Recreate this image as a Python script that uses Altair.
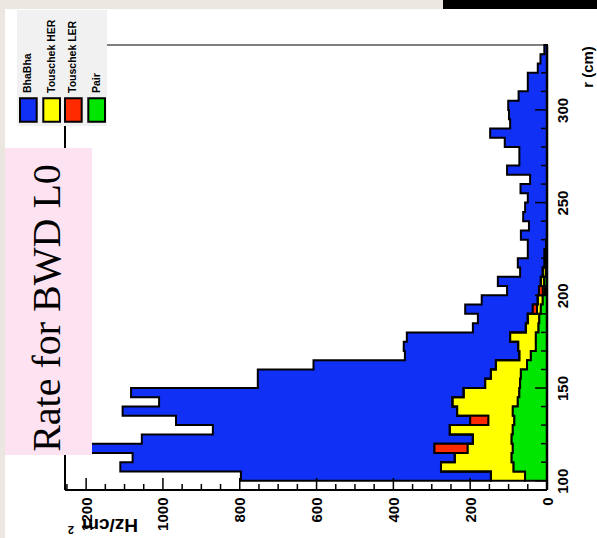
import altair as alt
import pandas as pd

# r bins: 5 cm wide, from 100 cm to 335 cm
r_start = 100
bin_width = 5

series = ["BhaBha", "Touschek HER", "Touschek LER", "Pair"]
colors = ["#1030f5", "#ffff00", "#ff2a00", "#00e600"]
stack_order = {"Pair": 0, "Touschek HER": 1, "Touschek LER": 2, "BhaBha": 3}

pair = [57, 87, 92, 89, 92, 89, 85, 89, 76, 72, 70, 68, 52, 42, 29, 29, 22, 20, 16, 11,
        5, 7, 3, 4, 4, 2, 0, 0, 0, 0, 0, 0, 0, 0, 0, 0, 0, 0, 0, 0,
        0, 0, 0, 0, 0, 0, 0]
touschek_her = [89, 189, 148, 118, 101, 164, 68, 145, 170, 145, 91, 78, 81, 30, 46, 67, 33, 30, 10, 13,
                6, 9, 8, 2, 2, 0, 0, 0, 0, 0, 0, 0, 0, 0, 0, 0, 0, 0, 0, 0,
                0, 0, 0, 0, 0, 0, 0]
touschek_ler = [0, 0, 0, 86, 0, 0, 47, 0, 0, 0, 0, 0, 0, 0, 0, 0, 0, 0, 11, 0,
                10, 0, 0, 0, 0, 0, 0, 0, 0, 0, 0, 0, 0, 0, 0, 0, 0, 0, 0, 0,
                0, 0, 0, 0, 0, 0, 0]
bhabha = [651, 835, 839, 902, 862, 617, 766, 871, 764, 866, 592, 607, 475, 298, 298, 269, 138, 130, 176, 146,
          83, 112, 59, 70, 44, 48, 68, 47, 62, 57, 50, 69, 44, 104, 72, 72, 110, 148, 96, 99,
          101, 74, 50, 50, 24, 17, 7]

x_major = [0, 200, 400, 600, 800, 1000, 1200]
x_minor = [50, 100, 150, 250, 300, 350, 450, 500, 550, 650, 700, 750, 850, 900, 950,
           1050, 1100, 1150, 1250]
r_major = [100, 150, 200, 250, 300]
r_minor = [110, 120, 130, 140, 160, 170, 180, 190, 210, 220, 230, 240, 260, 270, 280,
           290, 310, 320, 330]

W, H = 482, 445
AXIS_FONT = "Liberation Sans Narrow, Liberation Sans, Arial"

values = {"BhaBha": bhabha, "Touschek HER": touschek_her,
          "Touschek LER": touschek_ler, "Pair": pair}

# step outline: each bin's value sits on its lower edge, plus the last upper edge
rows = []
for name, vals in values.items():
    for k, v in enumerate(vals):
        rows.append({"series": name, "ord": stack_order[name],
                     "r": r_start + bin_width * k, "rate": v})
    rows.append({"series": name, "ord": stack_order[name],
                 "r": r_start + bin_width * len(vals), "rate": vals[-1]})
hist = pd.DataFrame(rows)

xscale = alt.Scale(domain=[0, 1255], reverse=True, nice=False, zero=True)
yscale = alt.Scale(domain=[95, 335], nice=False, zero=False)

x_axis = alt.Axis(
    orient="bottom", values=x_major, format="d", labelAngle=270, labelAlign="right",
    labelBaseline="middle", labelPadding=7, labelFont=AXIS_FONT, labelFontSize=15,
    labelFontWeight="bold", labelColor="black", ticks=False, domain=False,
    grid=False, title=None, labelFlush=False, labelOverlap=False, zindex=1)
r_axis = alt.Axis(
    orient="right", values=r_major, format="d", labelAngle=270, labelAlign="center",
    labelBaseline="middle", labelPadding=15, labelFont=AXIS_FONT, labelFontSize=15,
    labelFontWeight="bold", labelColor="black", ticks=False, domain=False,
    grid=False, title=None, labelFlush=False, labelOverlap=False, zindex=1)


def rect(x, x2, y, y2, color):
    return alt.Chart(pd.DataFrame({"a": [0]})).mark_rect(color=color).encode(
        x=alt.value(x), x2=alt.value(x2), y=alt.value(y), y2=alt.value(y2))


def rule(x, x2, y, y2, width):
    return alt.Chart(pd.DataFrame({"a": [0]})).mark_rule(color="black", strokeWidth=width).encode(
        x=alt.value(x), x2=alt.value(x2), y=alt.value(y), y2=alt.value(y2))


def label(text, x, y, size, angle, font, weight="bold", align="center", baseline="middle"):
    return alt.Chart(pd.DataFrame({"t": [text]})).mark_text(
        fontSize=size, angle=angle, font=font, fontWeight=weight, align=align,
        baseline=baseline, color="black").encode(
        text="t:N", x=alt.value(x), y=alt.value(y))


panel = rect(-60, 532, -36, 493, "white")
topbar = rect(378, 532, -45, -36, "black")

area = alt.Chart(hist).mark_area(
    orient="horizontal", interpolate="step-after", stroke="black", strokeWidth=2,
    opacity=1, fillOpacity=1
).encode(
    y=alt.Y("r:Q", scale=yscale, axis=r_axis),
    x=alt.X("rate:Q", stack="zero", scale=xscale, axis=x_axis),
    color=alt.Color("series:N", scale=alt.Scale(domain=series, range=colors), legend=None),
    order=alt.Order("ord:Q"),
)


# inward ticks
def xticks(vals, length):
    return alt.Chart(pd.DataFrame({"rate": vals})).mark_rule(color="black", strokeWidth=1.5).encode(
        x=alt.X("rate:Q", scale=xscale, axis=x_axis), y=alt.value(H), y2=alt.value(H - length))


def rticks(vals, length):
    return alt.Chart(pd.DataFrame({"r": vals})).mark_rule(color="black", strokeWidth=1.5).encode(
        y=alt.Y("r:Q", scale=yscale, axis=r_axis), x=alt.value(W), x2=alt.value(W - length))


frame = [
    rule(0, W, 0, 0, 1.2),
    rule(0, 0, 0, H, 2),
    rule(0, W, H, H, 2),
    rule(W, W, 0, H, 2.5),
]

# legend
legend_layers = [rect(-48, 42, -35, 81, "#f1f1f1")]
sq_x = [-45, -21.7, 0, 23.3]
for name, col, x0 in zip(series, colors, sq_x):
    legend_layers.append(
        alt.Chart(pd.DataFrame({"a": [0]})).mark_rect(color=col, stroke="black", strokeWidth=2).encode(
            x=alt.value(x0), x2=alt.value(x0 + 16.7), y=alt.value(53.3), y2=alt.value(76.7)))
    legend_layers.append(label(name, x0 + 8.3, 48, 10.5, 270, AXIS_FONT, align="left"))

title_layers = [
    rect(-60, 27, 103, 410, "#fde2f1"),
    label("Rate for BWD L0", -17, 263, 40, 270, "Liberation Serif", weight="normal"),
]

axis_titles = [
    label("r (cm)", 523, 22, 15, 270, AXIS_FONT),
    label("Hz/cm", 45, 480, 19, 180, AXIS_FONT),
    label("2", 6, 484, 11, 180, AXIS_FONT),
]

chart = alt.layer(
    panel, topbar, area,
    xticks(x_major, 12), xticks(x_minor, 6), rticks(r_major, 12), rticks(r_minor, 6),
    *frame, *legend_layers, *title_layers, *axis_titles
).properties(
    width=W, height=H,
    autosize=alt.AutoSizeParams(type="none"),
    padding={"left": 65, "top": 45, "right": 50, "bottom": 48},
    background="#ebe7e0",
).configure_view(stroke=None)

chart.save("out.html", embed_options={"renderer": "svg", "actions": False})
